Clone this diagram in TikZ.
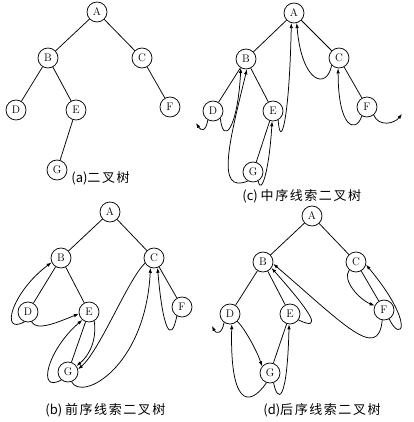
\documentclass[tikz,border=0pt]{standalone}
\usepackage{fontspec}
\newfontfamily\cjk{Noto Sans CJK SC}
\newfontfamily\cjkwide[LetterSpace=12]{Noto Sans CJK SC}
\usetikzlibrary{arrows.meta}

\begin{document}
\begin{tikzpicture}[
  x=1pt, y=-1pt, line width=0.75pt,
  vtx/.style={circle, draw, minimum size=20pt, inner sep=0pt, font=\fontsize{11}{11}\selectfont},
  thr/.style={-{Latex[length=5pt,width=3.5pt]}},
  lbl/.style={anchor=west, inner sep=0pt, font=\cjk\fontsize{13}{13}\selectfont}
]
\useasboundingbox (0,0) rectangle (413,422);

% (a) plain tree
\foreach \n/\x/\y in {A/97/12,B/48/58,C/142/58,D/16/110,E/76/110,F/170/107,G/57/170}
  \node[vtx] (a\n) at (\x,\y) {\n};
% (c) inorder
\foreach \n/\x/\y in {A/294/13,B/246/59,C/339/58,D/213/111,E/273/111,F/367/107,G/253/172}
  \node[vtx] (c\n) at (\x,\y) {\n};
% (b) preorder
\foreach \n/\x/\y in {A/110/212,B/61/258,C/154/258,D/28/312,E/89/312,F/182/307,G/68/372}
  \node[vtx] (b\n) at (\x,\y) {\n};
% (d) postorder
\foreach \n/\x/\y in {A/312/216,B/263/262,C/356/262,D/230/314,E/290/314,F/384/310,G/270/373}
  \node[vtx] (d\n) at (\x,\y) {\n};

\foreach \p in {a,b,c,d}
  \foreach \u/\v in {A/B,A/C,B/D,B/E,E/G,C/F} \draw (\p\u) -- (\p\v);

\node[lbl] (alab) at (71,178) {(a){\cjkwide 二叉树}};
\node[lbl] (clab) at (242,196) {(c) {\cjkwide 中序线索二叉树}};
\node[lbl] (blab) at (45,410) {(b) {\cjkwide 前序线索二叉树}};
\node[lbl] (dlab) at (263,410) {(d){\cjkwide 后序线索二叉树}};

% inorder threads
\coordinate (cDnil) at (196,123);
\coordinate (cFnil) at (402,114);
\draw[thr] (cD.-120) .. controls +(-2,12) and +(5,8) .. (cDnil);
\draw[thr] (cD.-45) .. controls +(3,28) and +(-3,60) .. (cB.-120);
\draw[thr] (cG.-120) .. controls +(-33,14) and +(-17,70) .. (cB.-85);
\draw[thr] (cG.-60) .. controls +(3,15) and +(-3,50) .. (cE.-95);
\draw[thr] (cE.-60) .. controls +(2,30) and +(-2,100) .. (cA.-105);
\draw[thr] (cC.-135) .. controls +(-5,25) and +(5,60) .. (cA.-75);
\draw[thr] (cF.-120) .. controls +(-6,18) and +(0,60) .. (cC.-95);
\draw[thr] (cF.-50) .. controls +(5,12) and +(-8,10) .. (cFnil);

% preorder threads
\draw[thr] (bD.-110) .. controls +(-25,14) and +(-40,30) .. (bB.-155);
\draw[thr] (bD.-70) .. controls +(5,10) and +(-20,8) .. (bE.-170);
\draw[thr] (bE.-60) .. controls +(3,20) and +(12,-10) .. (bG.35);
\draw[thr] (bG.-130) .. controls +(-25,14) and +(-35,30) .. (bE.-130);
\draw[thr] (bG.-70) .. controls +(10,20) and +(-5,100) .. (bC.-110);
\draw[thr] (bC.-150) .. controls +(-17,16) and +(22,-19) .. (bG.15);
\draw[thr] (bF.-120) .. controls +(-6,30) and +(5,60) .. (bC.-70);

% postorder threads
\coordinate (dDnil) at (212,326);
\draw[thr] (dD.-125) .. controls +(-2,12) and +(4,8) .. (dDnil);
\draw[thr] (dD.-45) .. controls +(8,8) and +(-5,-15) .. (dG.140);
\draw[thr] (dG.-110) .. controls +(-18,26) and +(-2,80) .. (dD.-80);
\draw[thr] (dG.-70) .. controls +(4,20) and +(-2,80) .. (dE.-95);
\draw[thr] (dE.-35) .. controls +(25,12) and +(40,45) .. (dB.-35);
\draw[thr] (dF.-100) .. controls +(-4,42) and +(70,60) .. (dB.-10);
\draw[thr] (dC.-130) .. controls +(-8,10) and +(-15,-6) .. (dF.155);
\draw[thr] (dF.-60) .. controls +(12,25) and +(50,60) .. (dC.-15);
\end{tikzpicture}
\end{document}
